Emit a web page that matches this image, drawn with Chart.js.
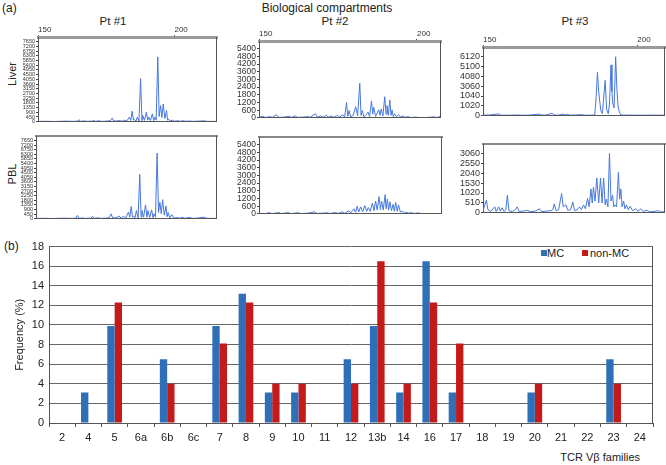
<!DOCTYPE html>
<html>
<head>
<meta charset="utf-8">
<script src="https://cdn.jsdelivr.net/npm/chart.js@4.4.1/dist/chart.umd.min.js"></script>
<style>
body { margin: 0; background: #fff; width: 666px; height: 465px; position: relative; overflow: hidden; font-family: Arial, "Liberation Sans", sans-serif; color: #222; }
canvas { position: absolute; }
.t { position: absolute; white-space: nowrap; font-size: 12px; line-height: 1; }
.c { transform: translate(-50%, -50%); }
.rot { transform: translate(-50%, -50%) rotate(-90deg); }
.sq { position: absolute; width: 6px; height: 6px; }
</style>
</head>
<body>
<div class="t" style="left:2px;top:2px">(a)</div>
<div class="t c" style="left:327px;top:8px">Biological compartments</div>
<div class="t c" style="left:113px;top:22px;font-size:11.5px">Pt #1</div>
<div class="t c" style="left:335px;top:22px;font-size:11.5px">Pt #2</div>
<div class="t c" style="left:575px;top:22px;font-size:11.5px">Pt #3</div>
<div class="t rot" style="left:12px;top:74px;font-size:11px">Liver</div>
<div class="t rot" style="left:12px;top:174px;font-size:11px">PBL</div>
<div class="t" style="left:4px;top:240px">(b)</div>
<div class="sq" style="left:541px;top:250px;background:#2e6fb7"></div>
<div class="t" style="left:547px;top:248px;font-size:11px">MC</div>
<div class="sq" style="left:582px;top:250px;background:#c41a1a"></div>
<div class="t" style="left:590px;top:248px;font-size:11px">non-MC</div>
<div class="t" style="right:26px;top:452px;font-size:11px">TCR Vβ families</div>

<canvas id="p1l"></canvas>
<canvas id="p1p"></canvas>
<canvas id="p2l"></canvas>
<canvas id="p2p"></canvas>
<canvas id="p3l"></canvas>
<canvas id="p3p"></canvas>
<canvas id="bar" width="666" height="230" style="left:0;top:235px"></canvas>

<script>
// spectratype traces: [fragment size (bp), intensity]
const pt1Liver = [[150,30],[153,40],[156,20],[160,50],[163,30],[164.5,60],[165,190],[165.6,40],[167,70],[168,30],[170,60],[170.5,120],[171,30],[172.5,90],[173.2,30],[175,50],[176.5,90],[177.2,350],[177.8,60],[179,80],[180.2,100],[180.8,40],[181.8,150],[182.5,60],[183.5,440],[184,120],[184.5,1000],[185,150],[185.4,200],[185.9,60],[186.4,440],[187,60],[187.6,4110],[188.1,100],[188.4,600],[189,120],[189.7,910],[190.2,150],[190.6,440],[191.2,100],[191.9,750],[192.4,100],[192.8,440],[193.3,150],[193.9,6190],[194.4,500],[194.9,1540],[195.4,400],[195.9,1700],[196.5,300],[197.1,1070],[197.5,150],[197.9,250],[198.5,60],[199.2,150],[200,50],[201.5,90],[202.2,30],[202.9,100],[204,40],[205.5,60],[207,30],[208.5,50],[210.8,80],[212,30],[215.5,30]];
const pt1Pbl = [[150,30],[153,40],[156,20],[160,50],[163,30],[164.5,60],[165,320],[165.6,40],[167,70],[168,30],[170,60],[170.5,250],[171,30],[172.5,90],[173.2,30],[175,50],[176.5,90],[177.2,480],[177.8,60],[179,80],[180.2,250],[180.8,40],[181.8,250],[182.5,60],[183.5,650],[184,150],[184.5,1190],[185,150],[185.4,250],[185.9,80],[186.4,800],[187,80],[187.6,4340],[188.1,150],[188.4,800],[189,150],[189.7,1350],[190.2,150],[190.6,800],[191.2,120],[191.9,870],[192.4,100],[192.8,480],[193.3,150],[193.9,6430],[194.4,600],[194.9,1610],[195.4,500],[195.9,1860],[196.5,350],[197.1,1250],[197.5,200],[197.9,600],[198.5,80],[199.2,400],[200,60],[201.5,100],[202.2,30],[202.9,150],[204,40],[205.5,120],[207,30],[208.5,60],[210.8,150],[212,30],[215.5,30]];
const pt2Liver = [[150,60],[151.3,120],[152,30],[153.5,100],[154.2,40],[155.5,250],[156.2,40],[158,60],[159.5,130],[160.2,30],[161.5,150],[162.2,40],[164,60],[165.5,100],[166.2,40],[167.8,325],[168.5,60],[169.5,150],[170.2,50],[171.3,200],[172,60],[173,150],[173.7,40],[174.8,200],[175.5,60],[176.5,250],[177.1,60],[177.7,1200],[178.1,120],[178.5,575],[179,80],[179.8,200],[180.6,875],[181.2,150],[181.9,2700],[182.3,200],[182.7,575],[183.2,80],[183.8,200],[184.5,450],[185,100],[185.6,1325],[186,300],[186.3,825],[186.9,120],[187.9,625],[188.3,200],[188.7,700],[189.2,150],[189.8,1650],[190.2,300],[190.5,950],[190.9,200],[191.4,1400],[191.8,200],[192.1,625],[192.5,100],[192.9,325],[193.5,80],[194.2,250],[194.8,60],[195.6,150],[196.3,40],[197.1,100],[198,30],[199.5,60],[201,20],[203,30],[205.5,80],[206.2,30],[207,100],[207.6,40]];
const pt2Pbl = [[150,30],[152,20],[153.3,100],[154,20],[156.3,100],[157,20],[159.3,100],[160,20],[162.3,90],[163,20],[165.5,60],[167.5,160],[168.3,30],[170,60],[171.5,80],[172.3,30],[174,100],[175,40],[176.2,150],[177,50],[178.3,250],[178.9,80],[179.9,400],[180.4,120],[180.9,600],[181.4,150],[182,550],[182.6,150],[183.3,650],[183.9,200],[184.4,500],[185,200],[185.7,850],[186.2,250],[186.7,1000],[187.2,300],[187.8,1350],[188.2,350],[188.6,1000],[189.1,300],[189.7,1500],[190,400],[190.4,1150],[190.8,300],[191.2,950],[191.7,250],[192.2,750],[192.6,200],[193,900],[193.5,200],[193.9,700],[194.5,150],[195.1,200],[195.8,80],[196.5,120],[197.2,50],[198,100],[198.8,30],[200,80],[201,20],[203,30],[207.6,20]];
const pt3Liver = [[150,60],[152,50],[155,180],[155.6,50],[158,40],[160,60],[163,40],[165,50],[168.4,160],[169,50],[170.5,60],[172.4,260],[173,60],[174.5,50],[176,160],[176.6,60],[177.4,150],[178,50],[180,60],[182,100],[183,50],[185,40],[186.2,60],[186.6,1500],[187.1,4500],[187.5,2500],[188.2,500],[188.7,200],[189.6,3670],[190.1,600],[190.6,200],[191,1200],[191.5,5280],[191.8,2500],[192.1,1200],[192.5,800],[193,6120],[193.4,2800],[193.8,900],[194.2,400],[194.6,80],[195.5,50],[198,50],[201,40],[205,50],[209,40]];
const pt3Pbl = [[150,100],[150.6,400],[151.1,650],[151.6,150],[152.5,60],[153.8,300],[154.3,60],[155.1,300],[155.6,80],[156.2,250],[156.8,60],[157.4,150],[157.9,900],[158.4,100],[159.5,60],[160.5,150],[161.1,300],[161.7,60],[163,80],[164.5,120],[165.3,40],[167,80],[168.3,200],[169,50],[170.5,80],[172,100],[172.6,150],[173.1,450],[173.7,100],[174.5,150],[175.5,990],[176,300],[176.9,400],[177.5,120],[178.4,150],[179.1,550],[179.7,100],[180.5,150],[181.3,300],[181.9,150],[182.6,400],[183.2,200],[183.9,740],[184.4,300],[185,1230],[185.4,500],[185.8,1320],[186.3,600],[186.9,1800],[187.5,500],[188.1,1800],[188.6,500],[189.1,1800],[189.6,400],[190,700],[190.5,300],[191,3080],[191.5,600],[192,900],[192.4,300],[192.8,400],[193.3,300],[193.9,2090],[194.3,700],[194.7,1230],[195.1,300],[195.6,600],[196,200],[196.5,400],[197.1,150],[197.7,330],[198.5,100],[199.5,200],[200.3,60],[201.1,200],[202,60],[203.2,120],[204,40],[205.5,60],[206.9,100],[207.5,40],[209,40]];

const sizeTicks = [150, 200];
const pt1Ticks = [0,450,900,1350,1800,2250,2700,3150,3600,4050,4500,4950,5400,5850,6300,6750,7200,7650];
const pt2Ticks = [0,600,1200,1800,2400,3000,3600,4200,4800,5400];
const pt3LiverTicks = [0,1020,2040,3060,4080,5100,6120];
const pt3LiverLabels = ['0','1020','1040','3060','4080','5100','6120'];
const pt3PblTicks = [0,510,1020,1530,2040,2550,3060];

// bar chart
const families = ['2','4','5','6a','6b','6c','7','8','9','10','11','12','13b','14','16','17','18','19','20','21','22','23','24'];
const mcFreq = [0,3.1,9.9,0,6.5,0,9.9,13.2,3.1,3.1,0,6.5,9.9,3.1,16.5,3.1,0,0,3.1,0,0,6.5,0];
const nonMcFreq = [0,0,12.3,0,4.0,0,8.1,12.3,4.0,4.0,0,4.0,16.5,4.0,12.3,8.1,0,0,4.0,0,0,4.0,0];

const frame = {
    id: 'frame',
    afterDraw(chart, args, opts) {
        const a = chart.chartArea, ctx = chart.ctx;
        ctx.save();
        ctx.strokeStyle = opts.color || '#444';
        ctx.lineWidth = 1;
        ctx.beginPath();
        ctx.moveTo(Math.round(a.right) - 0.5, a.top);
        ctx.lineTo(Math.round(a.right) - 0.5, a.bottom);
        if (opts.bottom !== false) {
            ctx.moveTo(a.left, Math.round(a.bottom) - 0.5);
            ctx.lineTo(a.right, Math.round(a.bottom) - 0.5);
        }
        ctx.stroke();
        ctx.restore();
    }
};

function trace(id, pts, o) {
    const cv = document.getElementById(id);
    cv.width = o.R - o.cx + 1;
    cv.height = o.B - o.cy + 3;
    cv.style.left = o.cx + 'px';
    cv.style.top = o.cy + 'px';
    new Chart(cv, {
        type: 'scatter',
        data: { datasets: [{ data: pts.map(p => ({ x: p[0], y: p[1] })), showLine: true, borderColor: '#4677e0', borderWidth: 1, pointRadius: 0, tension: 0 }] },
        options: {
            responsive: false, animation: false, events: [],
            layout: { padding: { left: 0, right: 1, top: 0, bottom: 3 } },
            plugins: { legend: { display: false }, tooltip: { enabled: false }, frame: { color: '#555' } },
            scales: {
                x: {
                    type: 'linear', position: 'top', min: 150, max: o.xmax,
                    afterBuildTicks: s => { s.ticks = sizeTicks.map(v => ({ value: v })); },
                    afterFit: s => { s.height = o.T - o.cy; },
                    ticks: { display: o.top, align: 'start', padding: 0, font: { size: 8 }, color: '#333', callback: v => v },
                    grid: { drawOnChartArea: false, drawTicks: o.top, tickLength: 2, color: '#555' },
                    border: { color: o.top ? '#9a9a9a' : '#888', width: o.top ? 3 : 2 }
                },
                y: {
                    min: 0, max: o.ymax,
                    afterBuildTicks: s => { s.ticks = o.yticks.map(v => ({ value: v })); },
                    afterFit: s => { s.width = o.L - o.cx; },
                    ticks: { autoSkip: false, padding: 1, font: { size: o.fs }, color: '#333', callback: (v, i) => o.ylab ? o.ylab[i] : v },
                    grid: { drawOnChartArea: false, tickLength: 2, color: '#444' },
                    border: { color: '#555', width: 1 }
                }
            }
        },
        plugins: [frame]
    });
}

trace('p1l', pt1Liver, { cx: 0, cy: 25, L: 38, R: 217, T: 37, B: 123, xmax: 215.6, ymax: 8100, yticks: pt1Ticks, fs: 5.5, top: true });
trace('p1p', pt1Pbl, { cx: 0, cy: 128, L: 36, R: 217, T: 136, B: 220, xmax: 215.6, ymax: 8100, yticks: pt1Ticks, fs: 5.5, top: false });
trace('p2l', pt2Liver, { cx: 222, cy: 29, L: 259, R: 441, T: 41, B: 121, xmax: 207.6, ymax: 6000, yticks: pt2Ticks, fs: 8.5, top: true });
trace('p2p', pt2Pbl, { cx: 222, cy: 128, L: 259, R: 442, T: 137, B: 217, xmax: 207.6, ymax: 6000, yticks: pt2Ticks, fs: 8.5, top: false });
trace('p3l', pt3Liver, { cx: 446, cy: 35, L: 483, R: 665, T: 47, B: 119, xmax: 209, ymax: 7140, yticks: pt3LiverTicks, ylab: pt3LiverLabels, fs: 9, top: true });
trace('p3p', pt3Pbl, { cx: 446, cy: 132, L: 483, R: 665, T: 144, B: 216, xmax: 209, ymax: 3570, yticks: pt3PblTicks, fs: 9, top: false });

new Chart(document.getElementById('bar'), {
    type: 'bar',
    data: {
        labels: families,
        datasets: [
            { label: 'MC', data: mcFreq, backgroundColor: '#2e6fb7', categoryPercentage: 0.56, barPercentage: 1 },
            { label: 'non-MC', data: nonMcFreq, backgroundColor: '#c41a1a', categoryPercentage: 0.56, barPercentage: 1 }
        ]
    },
    options: {
        responsive: false, animation: false, events: [],
        layout: { padding: { left: 0, right: 13, top: 10, bottom: 0 } },
        plugins: { legend: { display: false }, tooltip: { enabled: false }, frame: { bottom: false, color: '#555' } },
        scales: {
            x: {
                afterFit: s => { s.height = 42; },
                ticks: { font: { size: 11 }, color: '#222', padding: 4, autoSkip: false, maxRotation: 0 },
                grid: { drawOnChartArea: false, tickLength: 4, color: '#555', offset: true },
                border: { color: '#555' }
            },
            y: {
                min: 0, max: 18,
                afterFit: s => { s.width = 49; },
                ticks: { stepSize: 2, font: { size: 11 }, color: '#222', padding: 5 },
                grid: { color: '#666', drawTicks: false },
                border: { color: '#555' },
                title: { display: true, text: 'Frequency (%)', font: { size: 11 }, color: '#222', padding: { top: 13, bottom: 0 } }
            }
        }
    },
    plugins: [frame]
});
</script>
</body>
</html>
